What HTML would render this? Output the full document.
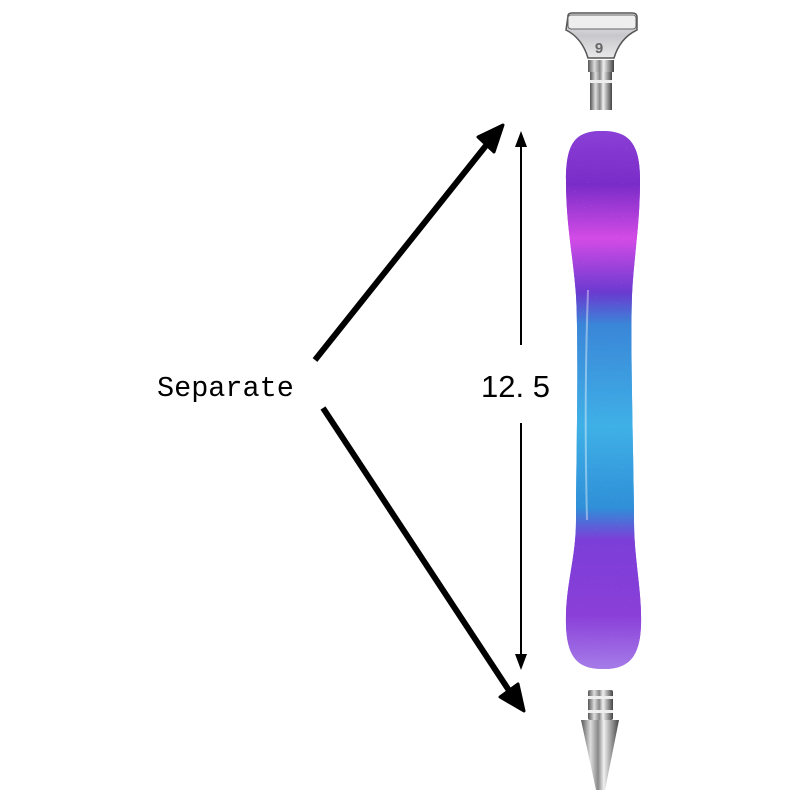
<!DOCTYPE html>
<html><head><meta charset="utf-8"><style>
html,body{margin:0;padding:0;background:#fff;}
svg{display:block}
</style></head><body>
<svg width="800" height="800" viewBox="0 0 800 800" xmlns="http://www.w3.org/2000/svg">
<defs>
<linearGradient id="hv" x1="0" y1="0" x2="0" y2="1">
<stop offset="0" stop-color="#8a3fd6"/>
<stop offset="0.1" stop-color="#7a2cc8"/>
<stop offset="0.2" stop-color="#d34be6"/>
<stop offset="0.3" stop-color="#6a3ad0"/>
<stop offset="0.36" stop-color="#3a86d8"/>
<stop offset="0.55" stop-color="#3fb0e6"/>
<stop offset="0.7" stop-color="#2f8fd8"/>
<stop offset="0.76" stop-color="#7c3ed8"/>
<stop offset="0.9" stop-color="#8a3fd8"/>
<stop offset="1" stop-color="#a57ce8"/>
</linearGradient>
<linearGradient id="hh" x1="0" y1="0" x2="1" y2="0">
<stop offset="0" stop-color="#fff" stop-opacity="0.25"/>
<stop offset="0.3" stop-color="#fff" stop-opacity="0"/>
<stop offset="0.8" stop-color="#000" stop-opacity="0.05"/>
<stop offset="1" stop-color="#000" stop-opacity="0.15"/>
</linearGradient>
<linearGradient id="met" x1="0" y1="0" x2="1" y2="0">
<stop offset="0" stop-color="#555"/>
<stop offset="0.25" stop-color="#ddd"/>
<stop offset="0.45" stop-color="#888"/>
<stop offset="0.6" stop-color="#f0f0f0"/>
<stop offset="0.8" stop-color="#999"/>
<stop offset="1" stop-color="#444"/>
</linearGradient>
<linearGradient id="headg" x1="0" y1="0" x2="0" y2="1">
<stop offset="0" stop-color="#f4f4f4"/>
<stop offset="0.5" stop-color="#c8c8cc"/>
<stop offset="1" stop-color="#e8e8ea"/>
</linearGradient>
<filter id="gl"><feTurbulence type="fractalNoise" baseFrequency="0.9" numOctaves="1" seed="3"/><feColorMatrix values="0 0 0 0 1  0 0 0 0 1  0 0 0 0 1  0 0 0 4 -2.9"/><feComposite in2="SourceGraphic" operator="in"/></filter>
</defs>

<path d="M568,16 Q568,13 572,13 L632,13 Q637,13 637,17 L637,30 Q620,38 614,58 L588,58 Q582,38 566,30 Z" fill="url(#headg)" stroke="#555" stroke-width="1.5"/>
<rect x="568" y="15" width="68" height="14" rx="3" fill="#eee" stroke="#666" stroke-width="1"/>
<text x="599" y="53" font-family="Liberation Sans, sans-serif" font-size="15" font-weight="bold" fill="#666" text-anchor="middle">9</text>
<rect x="588" y="60" width="26" height="12" fill="url(#met)"/>
<rect x="590" y="72" width="22" height="38" fill="url(#met)"/>
<rect x="590" y="80" width="22" height="3" fill="#eee"/>

<g>
<path id="hp" d="M602,131 C628,131 640,142 640,180 C640,225 634,255 632,295 C630,350 634,470 634,520 C634,560 642,590 641,625 C640,660 626,669 603,669 C580,669 567,660 566,625 C565,585 576,560 576,520 C576,470 579,350 576,295 C573,255 566,225 566,180 C566,142 576,131 602,131 Z" fill="url(#hv)"/>
<use href="#hp" fill="url(#hh)"/>
<use href="#hp" fill="#fff" filter="url(#gl)" opacity="0.6"/>
</g>
<path d="M588,290 Q584,400 587,520" stroke="#fff" stroke-opacity="0.4" stroke-width="2" fill="none"/>

<rect x="588" y="690" width="25" height="30" rx="2" fill="url(#met)"/>
<rect x="588" y="696" width="25" height="3" fill="#eee"/>
<rect x="588" y="710" width="25" height="3" fill="#eee"/>
<path d="M581,720 L619,720 L605,790 L596,790 Z" fill="url(#met)"/>

<line x1="315" y1="360" x2="488" y2="143" stroke="#000" stroke-width="6"/>
<polygon points="503,125 478,137 494,152" fill="#000" stroke="#000" stroke-width="3" stroke-linejoin="round"/>
<line x1="323" y1="408" x2="510" y2="692" stroke="#000" stroke-width="6"/>
<polygon points="524,711 500,697 518,684" fill="#000" stroke="#000" stroke-width="3" stroke-linejoin="round"/>

<line x1="521" y1="140" x2="521" y2="345" stroke="#000" stroke-width="2"/>
<polygon points="521,131 515,147 527,147" fill="#000"/>
<line x1="521" y1="423" x2="521" y2="660" stroke="#000" stroke-width="2"/>
<polygon points="521,670 515,654 527,654" fill="#000"/>

<text x="157" y="396" font-family="Liberation Mono, monospace" font-size="28.5" fill="#000">Separate</text>
<text x="481" y="397" font-family="Liberation Sans, 'Noto Sans CJK SC', sans-serif" font-size="31" fill="#000">12. 5</text>
</svg>
</body></html>
